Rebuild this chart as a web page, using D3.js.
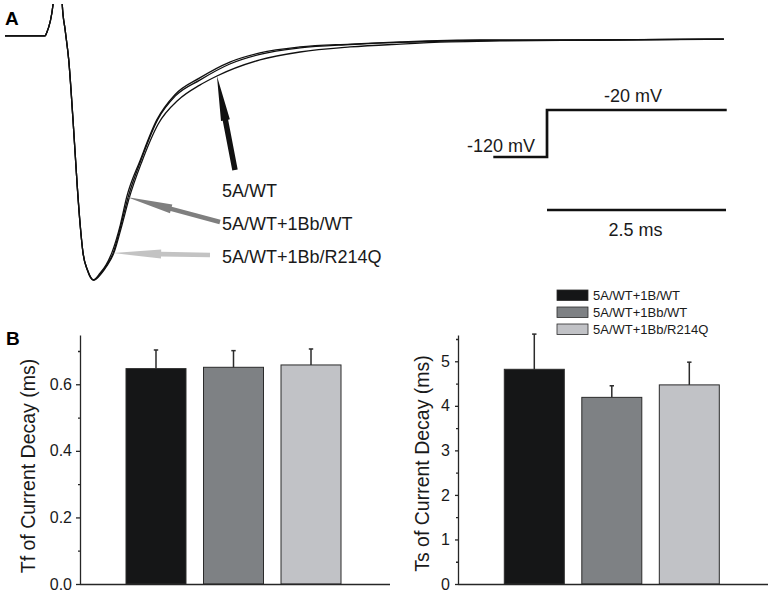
<!DOCTYPE html>
<html>
<head>
<meta charset="utf-8">
<script src="https://cdnjs.cloudflare.com/ajax/libs/d3/7.8.5/d3.min.js"></script>
<style>
body { margin: 0; background: #fff; }
svg { display: block; font-family: "Liberation Sans", Arial, sans-serif; }
.axis path, .axis line { stroke: #262626; stroke-width: 1.3; }
.axis text { font-size: 16px; fill: #1a1a1a; font-family: "Liberation Sans", Arial, sans-serif; }
</style>
</head>
<body>
<script>
// panel A: normalised sodium currents, [time (ms), current]
var preStep = [[0, 0.017], [0.56, 0.017], [0.58, 0.029], [0.67, 0.146], [0.70, 0.6], [0.77, 0.6]];

var traceWT = [[0.80, 0.146], [0.84, 0.042], [0.89, -0.083], [0.95, -0.333], [1.01, -0.613], [1.05, -0.771],
  [1.09, -0.888], [1.16, -0.963], [1.24, -1.0], [1.34, -0.975], [1.42, -0.942], [1.52, -0.888], [1.63, -0.775],
  [1.73, -0.663], [1.91, -0.508], [2.14, -0.35], [2.42, -0.25], [2.72, -0.188], [2.96, -0.15], [3.56, -0.083],
  [4.12, -0.05], [4.82, -0.029], [5.52, -0.017], [6.22, -0.008], [6.91, -0.004], [8.31, 0], [10.04, 0.004]];

var traceBbWT = [[0.80, 0.146], [0.84, 0.042], [0.89, -0.083], [0.95, -0.333], [1.01, -0.613], [1.05, -0.771],
  [1.09, -0.888], [1.15, -0.958], [1.23, -1.0], [1.33, -0.971], [1.41, -0.938], [1.49, -0.888], [1.61, -0.771],
  [1.70, -0.654], [1.89, -0.5], [2.12, -0.333], [2.37, -0.229], [2.72, -0.158], [3.14, -0.092], [3.56, -0.054],
  [4.12, -0.029], [4.82, -0.017], [5.52, -0.008], [6.63, 0], [8.31, 0], [10.04, 0.004]];

var traceR214Q = [[0.80, 0.146], [0.84, 0.042], [0.89, -0.083], [0.95, -0.333], [1.01, -0.613], [1.05, -0.771],
  [1.09, -0.888], [1.15, -0.958], [1.24, -1.0], [1.34, -0.971], [1.42, -0.938], [1.51, -0.888], [1.62, -0.771],
  [1.72, -0.654], [1.90, -0.5], [2.13, -0.333], [2.38, -0.233], [2.72, -0.167], [3.14, -0.1], [3.56, -0.06],
  [4.12, -0.033], [4.82, -0.019], [5.52, -0.01], [6.63, -0.002], [8.31, 0], [10.04, 0.004]];

// voltage protocol
var stepTimes = [6.82, 7.57, 7.57, 10.08];
var stepVoltages = [-120, -120, -20, -20];
var scaleBarMs = 2.5;

// panel B
var groups = ["5A/WT+1B/WT", "5A/WT+1Bb/WT", "5A/WT+1Bb/R214Q"];
var barColors = ["#151617", "#7e8184", "#c1c2c6"];
var tfMeans = [0.647, 0.651, 0.658];
var tfErrors = [0.056, 0.050, 0.048];
var tsMeans = [4.82, 4.19, 4.47];
var tsErrors = [0.79, 0.26, 0.51];
var tfTicks = [0, 0.2, 0.4, 0.6];
var tfMinor = [0.1, 0.3, 0.5, 0.7];
var tsTicks = [0, 1, 2, 3, 4, 5];
var tsMinor = [0.5, 1.5, 2.5, 3.5, 4.5, 5.5];

var svg = d3.select("body").append("svg")
    .attr("width", 774)
    .attr("height", 597);

// panel letters
svg.append("text").attr("x", 5).attr("y", 25)
    .style("font-size", "19px").style("font-weight", "bold").text("A");
svg.append("text").attr("x", 6).attr("y", 345)
    .style("font-size", "19px").style("font-weight", "bold").text("B");

// ---- panel A ----
var xTime = d3.scaleLinear().domain([0, 10]).range([5, 721]);
var yCur = d3.scaleLinear().domain([-1, 0]).range([280, 40]);
var yVolt = d3.scaleLinear().domain([-120, -20]).range([157, 110]);

svg.append("clipPath").attr("id", "clipA")
  .append("rect").attr("x", 0).attr("y", 4).attr("width", 774).attr("height", 300);

var traceLine = d3.line()
    .x(function(d) { return xTime(d[0]); })
    .y(function(d) { return yCur(d[1]); })
    .curve(d3.curveMonotoneX);

[traceR214Q, traceBbWT, traceWT].forEach(function(tr) {
  svg.append("path")
      .datum(preStep.concat(tr))
      .attr("clip-path", "url(#clipA)")
      .attr("d", traceLine)
      .attr("fill", "none")
      .attr("stroke", "#111")
      .attr("stroke-width", 1.3);
});

// arrow shape from tail to tip
function arrowPoints(tail, tip, headLen, headW, shaftW) {
  var dx = tip[0] - tail[0], dy = tip[1] - tail[1];
  var len = Math.sqrt(dx * dx + dy * dy);
  var ux = dx / len, uy = dy / len, nx = -uy, ny = ux;
  var bx = tip[0] - ux * headLen, by = tip[1] - uy * headLen;
  return [
    [tail[0] + nx * shaftW / 2, tail[1] + ny * shaftW / 2],
    [bx + nx * shaftW / 2, by + ny * shaftW / 2],
    [bx + nx * headW / 2, by + ny * headW / 2],
    tip,
    [bx - nx * headW / 2, by - ny * headW / 2],
    [bx - nx * shaftW / 2, by - ny * shaftW / 2],
    [tail[0] - nx * shaftW / 2, tail[1] - ny * shaftW / 2]
  ];
}

function pointAt(trace, t) {
  var p = trace.find(function(d) { return d[0] === t; });
  return [xTime(p[0]), yCur(p[1])];
}

var arrows = [
  {tail: [235, 170], tip: pointAt(traceWT, 2.96), color: "#111", label: "5A/WT", ly: 197, head: 45, hw: 9, sw: 5.5},
  {tail: [220, 222], tip: pointAt(traceBbWT, 1.70), color: "#7f7f7f", label: "5A/WT+1Bb/WT", ly: 230, head: 46, hw: 9, sw: 4.5},
  {tail: [210, 255], tip: pointAt(traceR214Q, 1.51), color: "#c3c3c3", label: "5A/WT+1Bb/R214Q", ly: 263, head: 48, hw: 9, sw: 4.7}
];

var arrowLine = d3.line();
arrows.forEach(function(a) {
  svg.append("path")
      .attr("d", arrowLine(arrowPoints(a.tail, a.tip, a.head, a.hw, a.sw)) + "Z")
      .attr("fill", a.color);
  svg.append("text")
      .attr("x", 222)
      .attr("y", a.ly)
      .style("font-size", "18px")
      .attr("fill", "#1a1a1a")
      .text(a.label);
});

// voltage step
var stepLine = d3.line()
    .x(function(d, i) { return xTime(stepTimes[i]); })
    .y(function(d) { return yVolt(d); });

svg.append("path")
    .datum(stepVoltages)
    .attr("d", stepLine)
    .attr("fill", "none")
    .attr("stroke", "#111")
    .attr("stroke-width", 2.7);

svg.append("text").attr("x", xTime(stepTimes[1]) - 12).attr("y", 152)
    .attr("text-anchor", "end").style("font-size", "18px").attr("fill", "#1a1a1a").text("-120 mV");
svg.append("text").attr("x", 633).attr("y", 102)
    .attr("text-anchor", "middle").style("font-size", "18px").attr("fill", "#1a1a1a").text("-20 mV");

// time scale bar
svg.append("line")
    .attr("x1", xTime(stepTimes[1]))
    .attr("x2", xTime(stepTimes[1] + scaleBarMs))
    .attr("y1", 210).attr("y2", 210)
    .attr("stroke", "#111")
    .attr("stroke-width", 2.7);
svg.append("text").attr("x", 635.5).attr("y", 236)
    .attr("text-anchor", "middle").style("font-size", "18px").attr("fill", "#1a1a1a").text(scaleBarMs + " ms");

// ---- panel B ----
function barChart(o) {
  var g = svg.append("g");

  g.selectAll("rect")
      .data(groups)
      .enter()
      .append("rect")
      .attr("x", function(d) { return o.x(d); })
      .attr("y", function(d, i) { return o.y(o.means[i]); })
      .attr("width", o.x.bandwidth())
      .attr("height", function(d, i) { return o.y(0) - o.y(o.means[i]); })
      .attr("fill", function(d, i) { return barColors[i]; })
      .attr("stroke", "#2b2b2b")
      .attr("stroke-width", 1);

  // error bars, upper whisker only
  var err = g.selectAll("g.err")
      .data(groups)
      .enter()
      .append("g")
      .attr("class", "err");
  err.append("line")
      .attr("x1", function(d) { return o.x(d) + o.x.bandwidth() / 2; })
      .attr("x2", function(d) { return o.x(d) + o.x.bandwidth() / 2; })
      .attr("y1", function(d, i) { return o.y(o.means[i]); })
      .attr("y2", function(d, i) { return o.y(o.means[i] + o.errors[i]); })
      .attr("stroke", "#2b2b2b").attr("stroke-width", 1.5);
  err.append("line")
      .attr("x1", function(d) { return o.x(d) + o.x.bandwidth() / 2 - 2.2; })
      .attr("x2", function(d) { return o.x(d) + o.x.bandwidth() / 2 + 2.2; })
      .attr("y1", function(d, i) { return o.y(o.means[i] + o.errors[i]); })
      .attr("y2", function(d, i) { return o.y(o.means[i] + o.errors[i]); })
      .attr("stroke", "#2b2b2b").attr("stroke-width", 1.5);

  // y axis with minor ticks
  g.append("g")
      .attr("class", "axis")
      .attr("transform", "translate(" + o.axisX + ",0)")
      .call(d3.axisLeft(o.y).tickValues(o.ticks).tickFormat(o.fmt)
        .tickSize(o.tickSize).tickPadding(o.pad).tickSizeOuter(0));
  g.append("g")
      .attr("class", "axis")
      .attr("transform", "translate(" + o.axisX + ",0)")
      .call(d3.axisLeft(o.y).tickValues(o.minor).tickFormat("").tickSize(2).tickSizeOuter(0))
      .select(".domain").remove();

  // x baseline
  g.append("line")
      .attr("x1", o.axisX).attr("x2", o.axisEnd)
      .attr("y1", o.y(0) + 0.5).attr("y2", o.y(0) + 0.5)
      .attr("stroke", "#262626").attr("stroke-width", 1.3);

  g.append("text")
      .attr("transform", "translate(" + o.labelX + "," + o.labelY + ") rotate(-90)")
      .attr("text-anchor", "middle")
      .style("font-size", "19.5px")
      .attr("fill", "#1a1a1a")
      .text(o.label);
}

barChart({
  x: d3.scaleBand().domain(groups).range([126, 341]).paddingInner(0.226),
  y: d3.scaleLinear().domain([0, 0.748]).range([584, 335]),
  means: tfMeans, errors: tfErrors,
  ticks: tfTicks, minor: tfMinor, fmt: d3.format(".1f"),
  axisX: 80, axisEnd: 390, tickSize: 4, pad: 4,
  label: "Tf of Current Decay (ms)", labelX: 35, labelY: 466
});

barChart({
  x: d3.scaleBand().domain(groups).range([504.3, 719.3]).paddingInner(0.226),
  y: d3.scaleLinear().domain([0, 5.59]).range([584, 335]),
  means: tsMeans, errors: tsErrors,
  ticks: tsTicks, minor: tsMinor, fmt: d3.format("d"),
  axisX: 458, axisEnd: 768, tickSize: 3, pad: 5,
  label: "Ts of Current Decay (ms)", labelX: 428.5, labelY: 463.5
});

// legend
var legend = svg.selectAll("g.legend")
    .data(groups)
    .enter()
    .append("g")
    .attr("class", "legend")
    .attr("transform", function(d, i) { return "translate(557," + (290 + i * 17) + ")"; });

legend.append("rect")
    .attr("width", 31)
    .attr("height", 10.5)
    .attr("fill", function(d, i) { return barColors[i]; })
    .attr("stroke", "#2b2b2b")
    .attr("stroke-width", 0.8);

legend.append("text")
    .attr("x", 36)
    .attr("y", 10)
    .style("font-size", "13px")
    .attr("fill", "#1a1a1a")
    .text(function(d) { return d; });
</script>
</body>
</html>
